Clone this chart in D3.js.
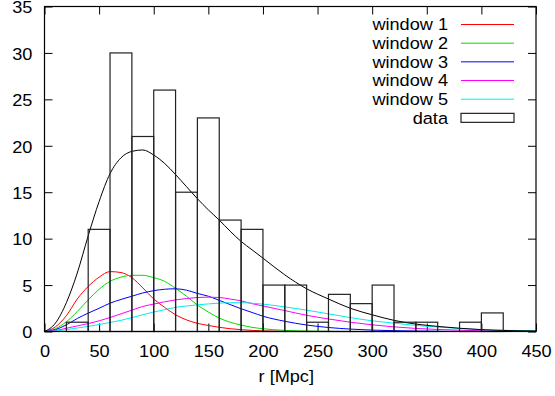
<!DOCTYPE html>
<html lang="en">
<head>
<meta charset="utf-8">
<title>r [Mpc] histogram</title>
<style>
  body { margin: 0; background: #fff; }
  svg text { font-family: "Liberation Sans", Arial, sans-serif; font-size: 16.5px; fill: #000; }
</style>
</head>
<body>
<div id="chart"></div>

<script src="https://cdnjs.cloudflare.com/ajax/libs/d3/7.8.5/d3.min.js"></script>
<script>
// histogram: bins of 20 Mpc, left edges and counts
var binStart = [20, 40, 60, 80, 100, 120, 140, 160, 180, 200, 220, 240, 260, 280, 300, 320, 340, 360, 380, 400];
var binCount = [1, 11, 30, 21, 26, 15, 23, 12, 11, 5, 5, 1, 4, 3, 5, 1, 1, 0, 1, 2];
var binWidth = 20;

// curves at these r values
var rVals = [0, 10, 20, 30, 40, 50, 60, 70, 80, 90, 100, 110, 120, 130, 140, 150, 160, 170, 180, 190, 200,
             220, 240, 260, 280, 300, 320, 340, 360, 380, 400, 425, 450];
var window1 = [0, 0.5, 1.7, 3.5, 4.85, 5.85, 6.45, 6.35, 5.8, 4.7, 3.5, 2.6, 1.8, 1.25, 0.88, 0.65, 0.45, 0.3, 0.2, 0.12, 0.07,
               0.02, 0, 0, 0, 0, 0, 0, 0, 0, 0, 0, 0];
var window2 = [0, 0.3, 1.05, 2.15, 3.4, 4.55, 5.4, 5.85, 6.05, 6.05, 5.8, 5.4, 4.65, 3.8, 2.85, 2.1, 1.45, 1.0, 0.7, 0.45, 0.3,
               0.12, 0.05, 0.02, 0, 0, 0, 0, 0, 0, 0, 0, 0];
var window3 = [0, 0.2, 0.72, 1.4, 1.98, 2.5, 3.05, 3.45, 3.8, 4.15, 4.4, 4.55, 4.6, 4.45, 4.1, 3.8, 3.35, 2.9, 2.45, 2.05, 1.65,
               1.1, 0.7, 0.43, 0.26, 0.15, 0.09, 0.05, 0.03, 0.01, 0, 0, 0];
var window4 = [0, 0.1, 0.35, 0.6, 0.85, 1.15, 1.5, 1.9, 2.3, 2.7, 2.95, 3.2, 3.4, 3.55, 3.66, 3.7, 3.66, 3.5, 3.3, 3.0, 2.75,
               2.25, 1.75, 1.35, 1.0, 0.72, 0.5, 0.33, 0.22, 0.14, 0.08, 0.04, 0.02];
var window5 = [0, 0.05, 0.2, 0.38, 0.55, 0.75, 0.97, 1.2, 1.5, 1.8, 2.1, 2.35, 2.6, 2.75, 2.87, 2.97, 3.05, 3.1, 3.1, 3.05, 2.95,
               2.65, 2.3, 1.9, 1.5, 1.15, 0.9, 0.65, 0.48, 0.33, 0.2, 0.12, 0.07];
var total = [0, 0.9, 3.1, 6.3, 10.3, 14.0, 17.0, 18.7, 19.4, 19.55, 19.0, 18.1, 16.9, 15.6, 14.3, 13.1, 12.0, 10.8, 9.7, 8.8, 7.9,
             6.1, 4.6, 3.5, 2.5, 1.8, 1.2, 0.8, 0.55, 0.35, 0.2, 0.1, 0.05];

var seriesNames = ["window 1", "window 2", "window 3", "window 4", "window 5"];
var seriesColors = ["#ff0000", "#00dd00", "#0000ff", "#ff00ff", "#00eeee"];
var xTicks = [0, 50, 100, 150, 200, 250, 300, 350, 400, 450];
var yTicks = [0, 5, 10, 15, 20, 25, 30, 35];

var width = 555, height = 396;
var margin = {top: 6.5, right: 19, bottom: 64.5, left: 44.5};
var stretch = "scale(1.1,1)";   // the text in the picture is a bit wider than plain Arial

var svg = d3.select("#chart")
            .append("svg")
            .attr("width", width)
            .attr("height", height);

var x = d3.scaleLinear().domain([0, 450]).range([margin.left, width - margin.right]);
var y = d3.scaleLinear().domain([0, 35]).range([height - margin.bottom, margin.top]);

var tickLen = 8;

// ticks (inward, mirrored on all four sides)
var xAxisB = d3.axisBottom(x).tickValues(xTicks).tickSizeInner(-tickLen).tickSizeOuter(0).tickPadding(14);
var xAxisT = d3.axisTop(x).tickValues(xTicks).tickSizeInner(-tickLen).tickSizeOuter(0).tickFormat("");
var yAxisL = d3.axisLeft(y).tickValues(yTicks).tickSizeInner(-tickLen).tickSizeOuter(0).tickPadding(11);
var yAxisR = d3.axisRight(y).tickValues(yTicks).tickSizeInner(-tickLen).tickSizeOuter(0).tickFormat("");

function styleAxis(g) {
    g.select(".domain").remove();
    g.selectAll("line").attr("stroke", "#000");
    g.selectAll("text").attr("font-size", null).attr("font-family", null).attr("transform", stretch);
}

svg.append("g").attr("transform", "translate(0," + y(0) + ")").call(xAxisB).call(styleAxis);
svg.append("g").attr("transform", "translate(0," + y(35) + ")").call(xAxisT).call(styleAxis);
var gy = svg.append("g").attr("transform", "translate(" + x(0) + ",0)").call(yAxisL).call(styleAxis);
gy.selectAll("text").attr("dy", "0.38em");
svg.append("g").attr("transform", "translate(" + x(450) + ",0)").call(yAxisR).call(styleAxis);

// curves
var line = d3.line()
             .x(function(d){ return x(d[0]); })
             .y(function(d){ return y(d[1]); })
             .curve(d3.curveMonotoneX);

var windows = [window1, window2, window3, window4, window5];
windows.forEach(function(vals, i){
    svg.append("path")
       .attr("d", line(rVals.map(function(r, j){ return [r, vals[j]]; })))
       .attr("fill", "none")
       .attr("stroke", seriesColors[i])
       .attr("stroke-width", 1);
});
svg.append("path")
   .attr("d", line(rVals.map(function(r, j){ return [r, total[j]]; })))
   .attr("fill", "none")
   .attr("stroke", "#000")
   .attr("stroke-width", 1);

// data boxes
svg.selectAll("rect.bin")
   .data(binStart.filter(function(d, i){ return binCount[i] > 0; }))
   .enter()
   .append("rect")
   .attr("class", "bin")
   .attr("x", function(d){ return x(d); })
   .attr("y", function(d){ return y(binCount[binStart.indexOf(d)]); })
   .attr("width", function(d){ return x(d + binWidth) - x(d); })
   .attr("height", function(d){ return y(0) - y(binCount[binStart.indexOf(d)]); })
   .attr("fill", "none")
   .attr("stroke", "#222")
   .attr("stroke-width", 1.2);

// frame
svg.append("rect")
   .attr("x", x(0)).attr("y", y(35))
   .attr("width", x(450) - x(0)).attr("height", y(0) - y(35))
   .attr("fill", "none")
   .attr("stroke", "#000")
   .attr("stroke-width", 1.2);

// axis label
svg.append("text")
   .attr("transform", "translate(" + ((x(0) + x(450)) / 2 - 4) + ",382) " + stretch)
   .attr("text-anchor", "middle")
   .text("r [Mpc]");

// legend
var legX = 448, legY = 24.5, legStep = 18.67;
var legend = svg.append("g");
seriesNames.concat(["data"]).forEach(function(name, i){
    var ly = legY + i * legStep;
    legend.append("text")
          .attr("transform", "translate(" + legX + "," + ly + ") " + stretch)
          .attr("dy", "0.36em")
          .attr("text-anchor", "end")
          .text(name);
    if (i < seriesNames.length) {
        legend.append("line")
              .attr("x1", 461).attr("x2", 514)
              .attr("y1", ly).attr("y2", ly)
              .attr("stroke", seriesColors[i])
              .attr("stroke-width", 1);
    } else {
        legend.append("rect")
              .attr("x", 461).attr("y", ly - 4.5)
              .attr("width", 53).attr("height", 9)
              .attr("fill", "none")
              .attr("stroke", "#222")
              .attr("stroke-width", 1.2);
    }
});
</script>
</body>
</html>
